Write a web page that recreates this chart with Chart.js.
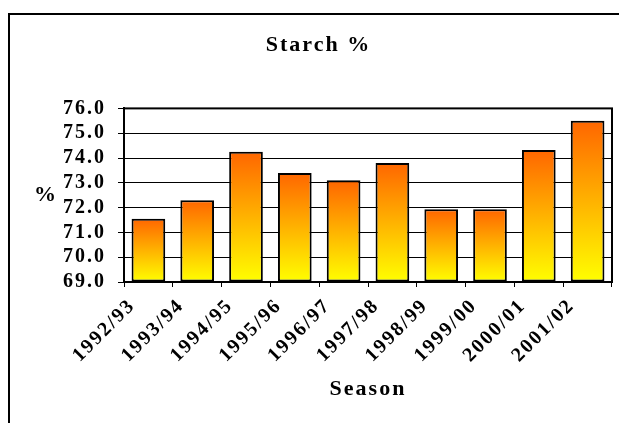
<!DOCTYPE html>
<html>
<head>
<meta charset="utf-8">
<script src="https://cdn.jsdelivr.net/npm/chart.js@4/dist/chart.umd.min.js"></script>
<style>
    html, body { margin: 0; padding: 0; background: #fff; overflow: hidden; }
    #frame {
        position: absolute;
        left: 8px;
        top: 13px;
        border-top: 2px solid #000;
        border-left: 2px solid #000;
    }
    canvas { display: block; }
</style>
</head>
<body>
<div id="frame"><canvas id="starch-chart" width="632" height="408"></canvas></div>
<script>
// Starch % per season
const seasons = ['1992/93', '1993/94', '1994/95', '1995/96', '1996/97', '1997/98', '1998/99', '1999/00', '2000/01', '2001/02'];
const starch = [71.55, 72.3, 74.25, 73.4, 73.1, 73.8, 71.93, 71.93, 74.32, 75.5];
const yMin = 69;
const yMax = 76;
const yStep = 1;

const serif = '"Liberation Serif", "Times New Roman", serif';

// letter spacing like the original (Excel bold Times)
const spacing = {
    id: 'spacing',
    beforeUpdate(chart) { chart.ctx.letterSpacing = '2px'; },
    beforeDraw(chart) { chart.ctx.letterSpacing = '2px'; }
};

// box round the plot area
const plotFrame = {
    id: 'plotFrame',
    afterDraw(chart) {
        const { ctx, chartArea } = chart;
        ctx.save();
        ctx.strokeStyle = '#000';
        ctx.lineWidth = 2;
        ctx.strokeRect(chartArea.left, chartArea.top, chartArea.right - chartArea.left, chartArea.bottom - chartArea.top);
        ctx.restore();
    }
};

// horizontal "%" y axis title
const yTitle = {
    id: 'yTitle',
    afterDraw(chart) {
        const { ctx, chartArea } = chart;
        ctx.save();
        ctx.font = 'bold 22px ' + serif;
        ctx.fillStyle = '#000';
        ctx.textAlign = 'center';
        ctx.textBaseline = 'middle';
        ctx.fillText('%', 36, (chartArea.top + chartArea.bottom) / 2);
        ctx.restore();
    }
};

function barGradient(context) {
    const chart = context.chart;
    if (!chart.chartArea || context.type !== 'data') return '#ffb300';
    const y = chart.scales.y;
    const top = y.getPixelForValue(context.raw);
    const bottom = y.getPixelForValue(yMin);
    const g = chart.ctx.createLinearGradient(0, top, 0, bottom);
    g.addColorStop(0, '#ff6600');
    g.addColorStop(1, '#ffff00');
    return g;
}

new Chart(document.getElementById('starch-chart'), {
    type: 'bar',
    data: {
        labels: seasons,
        datasets: [{
            label: 'Starch %',
            data: starch,
            base: yMin,
            backgroundColor: barGradient,
            borderColor: '#000',
            borderWidth: 2,
            borderSkipped: false,
            categoryPercentage: 1,
            barPercentage: 0.69
        }]
    },
    options: {
        responsive: false,
        devicePixelRatio: 1,
        animation: false,
        layout: { padding: { left: 15, right: 30, top: 0, bottom: 20 } },
        plugins: {
            legend: { display: false },
            tooltip: { enabled: false },
            title: {
                display: true,
                text: 'Starch %',
                color: '#000',
                font: { family: serif, size: 22, weight: 'bold', lineHeight: 1.2 },
                padding: { top: 17, bottom: 50 }
            }
        },
        scales: {
            x: {
                grid: { display: true, drawOnChartArea: false, color: '#000', tickLength: 5, offset: true },
                border: { color: '#000', width: 2 },
                ticks: {
                    color: '#000',
                    font: { family: serif, size: 20, weight: 'bold' },
                    minRotation: 45,
                    maxRotation: 45,
                    padding: 7,
                    labelOffset: -16,
                    autoSkip: false
                },
                title: {
                    display: true,
                    text: 'Season',
                    color: '#000',
                    font: { family: serif, size: 22, weight: 'bold', lineHeight: 1.2 },
                    padding: { top: 0, bottom: 0 }
                },
                afterFit(scale) { scale.height = 121; }
            },
            y: {
                min: yMin,
                max: yMax,
                grid: { color: '#000', lineWidth: 1, tickLength: 6 },
                border: { color: '#000', width: 2 },
                ticks: {
                    stepSize: yStep,
                    autoSkip: false,
                    color: '#000',
                    padding: 12,
                    font: { family: serif, size: 20, weight: 'bold' },
                    callback: (v) => Number(v).toFixed(1)
                },
                afterFit(scale) { scale.width = 99; }
            }
        }
    },
    plugins: [spacing, plotFrame, yTitle]
});
</script>
</body>
</html>
